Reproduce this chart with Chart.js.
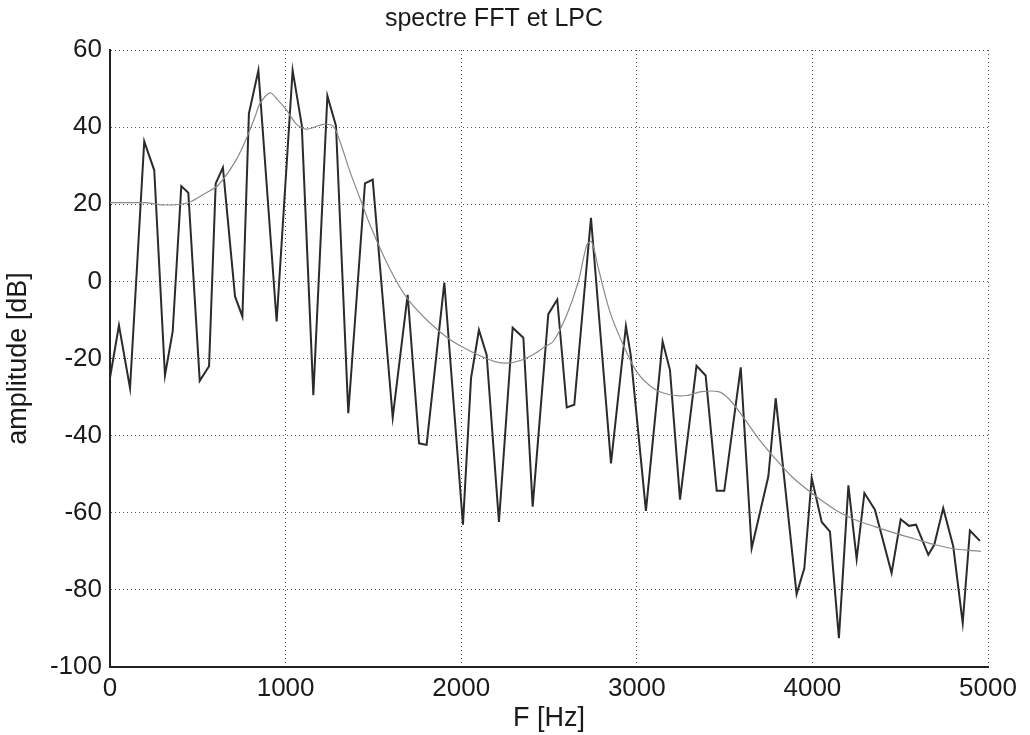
<!DOCTYPE html>
<html>
<head>
<meta charset="utf-8">
<script src="https://cdn.jsdelivr.net/npm/chart.js@4/dist/chart.umd.min.js"></script>
<style>
  body { margin: 0; background: #fff; }
  #c { display: block; }
</style>
</head>
<body>
<canvas id="c" width="1030" height="735"></canvas>
<script>
// FFT spectrum vertices (Hz, dB)
var fftFreq = [0, 51, 114, 195, 252, 313, 357, 406, 446, 511, 564, 602, 643, 712, 754, 791, 845, 949, 1040, 1092,
  1158, 1238, 1287, 1357, 1452, 1496, 1610, 1695, 1760, 1803, 1904, 2010, 2056, 2101, 2145, 2215, 2293, 2354, 2407,
  2496, 2547, 2601, 2644, 2739, 2853, 2938, 2965, 3052, 3147, 3189, 3246, 3340, 3392, 3455, 3498, 3592, 3654, 3749,
  3791, 3910, 3954, 3996, 4053, 4100, 4151, 4205, 4252, 4296, 4356, 4451, 4503, 4550, 4590, 4660, 4694, 4745, 4802,
  4856, 4897, 4954];
var fftAmp = [-25, -11.4, -27.7, 36.3, 28.8, -24.4, -13, 24.7, 23, -25.8, -22, 25.4, 29.5, -3.9, -9.1, 43.5, 54.7, -10.4, 54.7, 40.5,
  -29.5, 48.1, 40.3, -34.2, 25.4, 26.4, -35.3, -3.5, -42, -42.4, -0.3, -63.1, -25.1, -12.6, -19.1, -62.4, -12, -14.6, -58.4,
  -8.5, -4.7, -32.7, -32, 16.5, -47.2, -11.6, -19, -59.5, -15.6, -23, -56.6, -21.9, -24.4, -54.3, -54.3, -22.3, -69.2, -50.6,
  -30.3, -81.1, -74.4, -51, -62.4, -64.9, -92.5, -52.9, -72, -54.9, -59.2, -75.6, -61.7, -63.4, -63.1, -70.9, -68.3, -58.8, -68.7,
  -88.6, -64.6, -67.3];

// LPC envelope
var lpcFreq = [0, 200, 313, 446, 541, 617, 712, 769, 826, 854, 911, 949, 1006, 1063, 1120, 1215, 1272, 1310, 1367, 1424,
  1481, 1556, 1633, 1699, 1813, 1927, 2003, 2097, 2192, 2268, 2345, 2420, 2477, 2524, 2601, 2667, 2715, 2743, 2781,
  2847, 2923, 2999, 3094, 3189, 3284, 3369, 3464, 3521, 3597, 3692, 3787, 3882, 3996, 4129, 4243, 4356, 4470, 4584,
  4698, 4812, 4907, 4960];
var lpcAmp = [20.4, 20.4, 19.8, 20.4, 22.8, 25, 31, 36.2, 42.7, 46.1, 48.9, 47.4, 44.4, 40.7, 39.5, 40.7, 40.2, 36.2, 28.4, 21.5,
  14.6, 6.8, -0.1, -4.8, -10.4, -14.8, -16.9, -19.1, -20.8, -21.2, -20.4, -18.7, -16.9, -15.6, -8.7, -0.1, 9.4, 10.3, 3.4,
  -7.9, -16.5, -23.4, -27.7, -29.4, -29.6, -28.6, -28.6, -30.3, -34.6, -40.7, -45.9, -50.6, -54.9, -59.2, -61.8, -63.6, -65.3, -66.8,
  -68.3, -69.4, -69.8, -70];

var xTicks = [0, 1000, 2000, 3000, 4000, 5000];
var yTicks = [-100, -80, -60, -40, -20, 0, 20, 40, 60];

function toPoints(xs, ys) {
  return xs.map(function (x, i) { return { x: x, y: ys[i] }; });
}

var fontFam = '"Liberation Sans", Arial, sans-serif';

// fond blanc
var bgPlugin = {
  id: 'bg',
  beforeDraw: function (chart) {
    var c = chart.ctx;
    c.save();
    c.fillStyle = '#fff';
    c.fillRect(0, 0, chart.width, chart.height);
    c.restore();
  }
};

var ctx = document.getElementById('c').getContext('2d');
var myChart = new Chart(ctx, {
  type: 'line',
  data: {
    datasets: [{
      label: 'LPC',
      data: toPoints(lpcFreq, lpcAmp),
      borderColor: '#8a8a8a',
      borderWidth: 1.2,
      pointRadius: 0,
      fill: false,
      tension: 0.3
    }, {
      label: 'FFT',
      data: toPoints(fftFreq, fftAmp),
      borderColor: '#2b2b2b',
      borderWidth: 2,
      pointRadius: 0,
      fill: false,
      tension: 0
    }]
  },
  options: {
    responsive: false,
    animation: false,
    layout: { padding: { left: 0, right: 42, top: 0, bottom: 0 } },
    plugins: {
      legend: { display: false },
      tooltip: { enabled: false },
      title: {
        display: true,
        text: 'spectre FFT et LPC',
        color: '#1a1a1a',
        font: { family: fontFam, size: 25, weight: 'normal' },
        padding: { top: 4, bottom: 16 }
      }
    },
    scales: {
      x: {
        type: 'linear',
        min: 0,
        max: 5000,
        afterBuildTicks: function (s) { s.ticks = xTicks.map(function (v) { return { value: v }; }); },
        afterFit: function (s) { s.height = 68; },
        ticks: {
          color: '#1a1a1a',
          font: { family: fontFam, size: 26 },
          padding: 6,
          maxRotation: 0,
          callback: function (v) { return String(v); }
        },
        grid: { color: '#555', lineWidth: 1, drawTicks: false },
        border: { display: true, color: '#222', width: 2, dash: [1, 3] },
        title: {
          display: true,
          text: 'F [Hz]',
          color: '#1a1a1a',
          font: { family: fontFam, size: 27 },
          padding: { top: -6, bottom: 0 }
        }
      },
      y: {
        min: -100,
        max: 60,
        afterBuildTicks: function (s) { s.ticks = yTicks.map(function (v) { return { value: v }; }); },
        afterFit: function (s) { s.width = 110; },
        ticks: {
          color: '#1a1a1a',
          font: { family: fontFam, size: 26 },
          padding: 8,
          callback: function (v) { return String(v); }
        },
        grid: { color: '#555', lineWidth: 1, drawTicks: false },
        border: { display: true, color: '#222', width: 2, dash: [1, 3] },
        title: {
          display: true,
          text: 'amplitude [dB]',
          color: '#1a1a1a',
          font: { family: fontFam, size: 27 },
          padding: { top: 2, bottom: 0 }
        }
      }
    }
  },
  plugins: [bgPlugin]
});
</script>
</body>
</html>
